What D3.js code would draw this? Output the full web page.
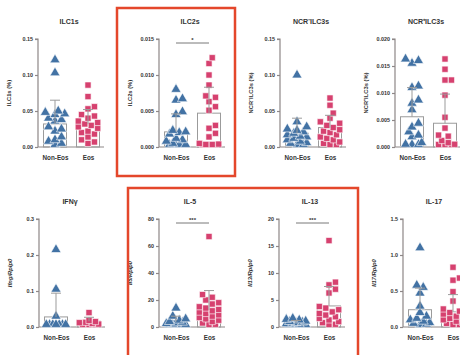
<!DOCTYPE html>
<html><head><meta charset="utf-8">
<script src="https://cdn.jsdelivr.net/npm/d3@7"></script>
<style>
html,body{margin:0;padding:0;background:#fff;}
svg text{font-family:"Liberation Sans",Arial,sans-serif;font-weight:bold;fill:#333;}
</style></head>
<body>
<svg id="c" width="460" height="355"></svg>
<script>
// ---------- DATA ----------
const categories = ["Non-Eos", "Eos"];
const panelTitles = ["ILC1s", "ILC2s", "NCR\u207BILC3s", "NCR\u207AILC3s", "IFN\u03B3", "IL-5", "IL-13", "IL-17"];
const yLabels = ["ILC1s (%)", "ILC2s (%)", "NCR\u207BILC3s (%)", "NCR\u207AILC3s (%)", "Ifng/Rplp0", "Il5/Rplp0", "Il13/Rplp0", "Il17/Rplp0"];
const yMax = [0.15, 0.015, 0.15, 0.020, 0.3, 80, 20, 1.5];
const yStep = [0.05, 0.005, 0.05, 0.005, 0.1, 20, 5, 0.5];
const tickFormats = [".2f", ".3f", ".2f", ".3f", ".1f", "d", "d", ".1f"];
const significance = ["", "*", "", "", "", "***", "***", ""];

const nonEosValues = [
  [0.121,0.103,0.050,0.048,0.046,0.045,0.040,0.038,0.036,0.028,0.025,0.022,0.014,0.010,0.008,0.005,0.003],
  [0.0080,0.0067,0.0065,0.0049,0.0045,0.0023,0.0021,0.0020,0.0018,0.0012,0.0010,0.0008,0.0005,0.0003,0.0002,0.0001,0.0000,0.0000],
  [0.100,0.035,0.028,0.025,0.023,0.021,0.019,0.017,0.015,0.014,0.012,0.010,0.008,0.006,0.005,0.003,0.002],
  [0.0163,0.0160,0.0155,0.0113,0.0110,0.0087,0.0081,0.0069,0.0044,0.0037,0.0028,0.0022,0.0019,0.0008,0.0005,0.0003,0.0002],
  [0.215,0.105,0.030,0.004,0.003,0.002,0.002,0.001,0.001,0.000,0.000],
  [14,8,6,5,4,3.5,3,2.5,2,1.5,1,0.8,0.5,0.3],
  [1.6,1.4,1.3,1.1,1.0,0.9,0.8,0.7,0.6,0.5,0.4,0.3,0.2,0.1],
  [1.10,0.58,0.55,0.47,0.29,0.20,0.15,0.12,0.10,0.08,0.06,0.05,0.04,0.02]
];
const eosValues = [
  [0.086,0.070,0.056,0.053,0.045,0.043,0.040,0.036,0.034,0.032,0.030,0.028,0.026,0.022,0.020,0.018,0.014,0.010,0.007,0.005],
  [0.0124,0.0116,0.0100,0.0086,0.0071,0.0069,0.0063,0.0056,0.0051,0.0030,0.0026,0.0019,0.0014,0.0005,0.0004,0.0002,0.0001,0.0000,0.0000,0.0000],
  [0.068,0.058,0.047,0.040,0.035,0.033,0.030,0.027,0.024,0.022,0.020,0.017,0.014,0.012,0.010,0.007,0.005,0.003,0.002],
  [0.0163,0.0144,0.0124,0.0124,0.0096,0.0055,0.0035,0.0022,0.0020,0.0012,0.0008,0.0005,0.0003,0.0001,0.0000],
  [0.040,0.018,0.015,0.013,0.012,0.010,0.008,0.006,0.004,0.003],
  [67,24,22,20,18,17,15,14,13,12,11,10,9,8,7,6,5,4,3,2,1],
  [16,8.3,7.8,7.0,6.3,3.8,3.5,3.2,2.8,2.5,2.2,1.9,1.6,1.3,1.0,0.8,0.5,0.3],
  [0.83,0.68,0.65,0.49,0.36,0.25,0.22,0.20,0.18,0.15,0.13,0.12,0.10,0.08,0.06,0.05,0.03,0.02]
];
const nonEosMean = [0.032, 0.0021, 0.019, 0.0056, 0.028, 4, 0.75, 0.24];
const nonEosSD   = [0.033, 0.0025, 0.021, 0.0054, 0.066, 4, 0.45, 0.30];
const eosMean    = [0.032, 0.0047, 0.027, 0.0044, 0.016, 12.6, 3.9, 0.21];
const eosSD      = [0.020, 0.0036, 0.017, 0.0054, 0.011, 14.4, 3.6, 0.24];

// ---------- LAYOUT ----------
const axisX = [38, 159, 280, 395, 39, 159, 279, 403];
const rowBottom = [147, 327], rowTop = [39, 219];
const plotW = 66;

const svg = d3.select("#c");
const axisColor = "#8e8787", barColor = "#9b9b9b";
const triFill = "#4272a4", sqFill = "#d6416f";

function swarm(vals, y, cx, r, maxOff) {
  const pts = vals.map(v => ({v, y: y(v)})).sort((a, b) => b.y - a.y);
  const placed = [];
  const cands = [0];
  for (let k = 1; k <= 12; k++) { cands.push(k * r * 0.95, -k * r * 0.95); }
  const valid = cands.filter(o => Math.abs(o) <= maxOff);
  for (const p of pts) {
    let best = null, bestScore = -1;
    for (const off of valid) {
      const md = placed.length ? d3.min(placed, q => Math.hypot(q.x - (cx + off), q.y - p.y)) : 99;
      if (md >= 2 * r * 0.85) { best = off; break; }
      if (md > bestScore) { bestScore = md; best = off; }
    }
    p.x = cx + best; placed.push(p);
  }
  return placed;
}

panelTitles.forEach((title, i) => {
  const row = i < 4 ? 0 : 1;
  const x0 = axisX[i], yb = rowBottom[row], yt = rowTop[row];
  const g = svg.append("g");
  const y = d3.scaleLinear().domain([0, yMax[i]]).range([yb, yt]);
  const x = d3.scalePoint().domain(categories).range([x0 + 17, x0 + 50]);
  const bw = 23;

  g.append("text").attr("x", x0 + 31).attr("y", yt - 15).attr("text-anchor", "middle")
    .attr("font-size", 7).text(title);

  const ticks = d3.range(0, yMax[i] + yStep[i] / 2, yStep[i]);
  const ya = g.append("g").attr("transform", `translate(${x0},0)`)
    .call(d3.axisLeft(y).tickValues(ticks).tickFormat(d3.format(tickFormats[i])).tickSize(3).tickPadding(2));
  ya.selectAll("path,line").attr("stroke", axisColor).attr("stroke-width", 1.2);
  ya.select(".domain").attr("d", `M-3,${yt}H0V${yb}`);
  ya.selectAll("text").attr("font-size", 5.4).attr("fill", "#333")
    .style("font-family", "Liberation Sans, Arial, sans-serif").style("font-weight", "bold");

  const xa = g.append("g").attr("transform", `translate(0,${yb})`)
    .call(d3.axisBottom(x).tickSize(0).tickPadding(9));
  xa.select(".domain").attr("d", `M${x0},0H${x0 + plotW}`).attr("stroke", axisColor).attr("stroke-width", 1.2);
  xa.selectAll("text").attr("font-size", 6.3).attr("fill", "#333")
    .style("font-family", "Liberation Sans, Arial, sans-serif").style("font-weight", "bold");

  g.append("text").attr("transform", `translate(${x0 - 27},${(yb + yt) / 2}) rotate(-90)`)
    .attr("text-anchor", "middle").attr("font-size", 5.8)
    .attr("font-style", i >= 4 ? "italic" : "normal").text(yLabels[i]);

  const groups = [
    {cat: "Non-Eos", vals: nonEosValues[i], m: nonEosMean[i], sd: nonEosSD[i], shape: d3.symbolTriangle, fill: triFill, size: 44},
    {cat: "Eos", vals: eosValues[i], m: eosMean[i], sd: eosSD[i], shape: d3.symbolSquare, fill: sqFill, size: 38}
  ];
  groups.forEach(gr => {
    const cx = x(gr.cat);
    g.append("rect").attr("x", cx - bw / 2).attr("y", y(gr.m)).attr("width", bw).attr("height", yb - y(gr.m))
      .attr("fill", "none").attr("stroke", barColor).attr("stroke-width", 1);
  });
  groups.forEach(gr => {
    const cx = x(gr.cat);
    const pts = swarm(gr.vals, y, cx, 3.4, 11);
    g.selectAll(null).data(pts).enter().append("path")
      .attr("d", d3.symbol().type(gr.shape).size(gr.size))
      .attr("transform", d => `translate(${d.x},${Math.min(d.y, yb - 2.5)})`)
      .attr("fill", gr.fill).attr("stroke", "#fff").attr("stroke-width", 0.6);
  });
  groups.forEach(gr => {
    const cx = x(gr.cat);
    g.append("line").attr("x1", cx).attr("x2", cx).attr("y1", y(gr.m)).attr("y2", y(gr.m + gr.sd))
      .attr("stroke", barColor).attr("stroke-width", 1);
    g.append("line").attr("x1", cx - 5).attr("x2", cx + 5).attr("y1", y(gr.m + gr.sd)).attr("y2", y(gr.m + gr.sd))
      .attr("stroke", barColor).attr("stroke-width", 1);
  });

  if (significance[i]) {
    const ly = yt + 4;
    g.append("line").attr("x1", x("Non-Eos")).attr("x2", x("Eos")).attr("y1", ly).attr("y2", ly)
      .attr("stroke", "#555").attr("stroke-width", 0.8);
    g.append("text").attr("x", (x("Non-Eos") + x("Eos")) / 2).attr("y", ly - 1.2).attr("text-anchor", "middle")
      .attr("font-size", 6).text(significance[i]);
  }
});

svg.append("rect").attr("x", 117).attr("y", 8).attr("width", 118).attr("height", 168)
  .attr("fill", "none").attr("stroke", "#e4472b").attr("stroke-width", 2.5);
svg.append("rect").attr("x", 128).attr("y", 188).attr("width", 230).attr("height", 200)
  .attr("fill", "none").attr("stroke", "#e4472b").attr("stroke-width", 2.5);
</script>
</body></html>
